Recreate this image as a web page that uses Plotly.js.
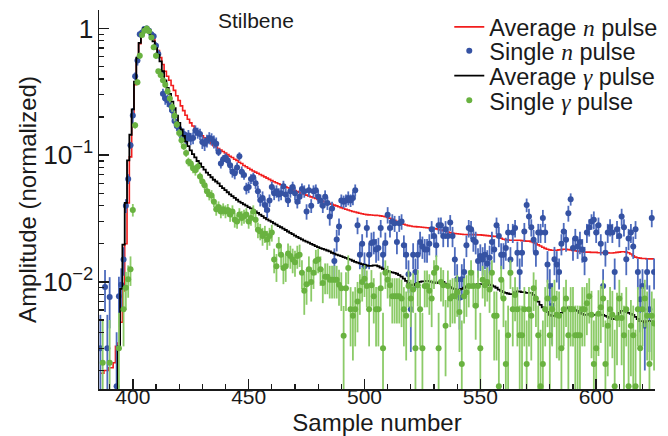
<!DOCTYPE html>
<html>
<head>
<meta charset="utf-8">
<script src="https://cdn.plot.ly/plotly-3.0.1.min.js"></script>
<style>html,body{margin:0;padding:0;background:#fff;}#chart{width:668px;height:436px;}</style>
</head>
<body>
<div id="chart"></div>
<script>
// Sample numbers 386 ... 625 (one per ADC sample)
const firstSample = 386;
const sampleCount = 240;
const samples = Array.from({length: sampleCount}, (_, i) => firstSample + i);

// Average neutron pulse (red step line)
const avgNeutron = [
0.0019,0.0019,0.002,0.002,0.0021,0.0021,0.0023,0.0031,0.0033,0.0048,
0.0085,0.020,0.042,0.097,0.21,0.36,0.57,0.76,0.92,1.0,
1.0,0.97,0.91,0.83,0.75,0.67,0.59,0.52,0.46,0.42,
0.39,0.355,0.325,0.295,0.27,0.245,0.225,0.207,0.192,0.18,
0.17,0.161,0.154,0.148,0.142,0.137,0.132,0.127,0.123,0.119,
0.116,0.113,0.11,0.107,0.104,0.101,0.098,0.096,0.093,0.091,
0.088,0.086,0.083,0.081,0.079,0.077,0.075,0.0735,0.072,0.0705,
0.069,0.0675,0.066,0.0645,0.063,0.0618,0.0606,0.0595,0.0584,0.0573,
0.0563,0.0553,0.0544,0.0535,0.0526,0.0517,0.0508,0.05,0.0492,0.0484,
0.0476,0.0469,0.0462,0.0455,0.0448,0.0441,0.0434,0.0428,0.0422,0.0416,
0.041,0.0404,0.0398,0.0392,0.0386,0.038,0.0375,0.037,0.0365,0.036,
0.0356,0.0352,0.0348,0.0345,0.0342,0.034,0.0338,0.0337,0.0336,0.0335,
0.0334,0.0332,0.033,0.0327,0.0323,0.0318,0.0312,0.0306,0.03,0.0295,
0.029,0.0285,0.0281,0.0278,0.0276,0.0274,0.0273,0.0272,0.0271,0.027,
0.0269,0.0268,0.0267,0.0266,0.0264,0.0262,0.026,0.0257,0.0254,0.0251,
0.0248,0.0245,0.0243,0.0241,0.024,0.0239,0.0238,0.0237,0.0237,0.0236,
0.0236,0.0236,0.0236,0.0235,0.0235,0.0234,0.0233,0.0232,0.0231,0.023,
0.0229,0.0228,0.0225,0.0221,0.0217,0.0215,0.0214,0.0213,0.0213,0.0213,
0.0213,0.0213,0.0212,0.0211,0.021,0.021,0.0208,0.0205,0.0201,0.0196,
0.0192,0.0188,0.0184,0.0181,0.0179,0.0178,0.0178,0.0178,0.0179,0.018,
0.0181,0.0181,0.018,0.0179,0.0177,0.0176,0.0175,0.0174,0.0173,0.0172,
0.0172,0.0172,0.0171,0.0171,0.0171,0.017,0.017,0.017,0.017,0.017,
0.0169,0.0169,0.017,0.0171,0.0172,0.0173,0.0173,0.0172,0.017,0.0166,
0.0161,0.0157,0.0155,0.0154,0.0153,0.0153,0.0152,0.0152,0.0152,0.0152
];

// Average gamma pulse (black step line)
const avgGamma = [
0.0012,0.0012,0.0012,0.0012,0.0012,0.0012,0.0012,0.0012,0.0031,0.0088,
0.0197,0.042,0.091,0.145,0.23,0.38,0.59,0.77,0.92,1.0,
0.99,0.95,0.88,0.79,0.70,0.62,0.55,0.46,0.39,0.34,
0.305,0.265,0.235,0.205,0.18,0.16,0.142,0.128,0.118,0.109,
0.102,0.096,0.090,0.086,0.081,0.077,0.073,0.070,0.067,0.064,
0.062,0.060,0.057,0.055,0.053,0.051,0.049,0.0475,0.046,0.0445,
0.043,0.042,0.041,0.040,0.039,0.038,0.037,0.036,0.035,0.034,
0.033,0.032,0.0312,0.0305,0.0298,0.029,0.0283,0.0276,0.027,0.0263,
0.0257,0.025,0.0244,0.0238,0.0232,0.0227,0.0222,0.0217,0.0212,0.0208,
0.0204,0.02,0.0196,0.0192,0.0188,0.0185,0.0182,0.018,0.0177,0.0174,
0.017,0.0167,0.0164,0.0162,0.016,0.0157,0.0155,0.0152,0.015,0.0147,
0.0144,0.0142,0.014,0.0138,0.0136,0.0135,0.0134,0.0134,0.0135,0.0135,
0.0133,0.013,0.0127,0.0124,0.0122,0.012,0.0119,0.0118,0.0116,0.0113,
0.011,0.0106,0.0102,0.0098,0.0095,0.0094,0.0096,0.0098,0.01,0.0101,
0.0101,0.0102,0.0101,0.01,0.0099,0.0098,0.0099,0.0101,0.01,0.0097,
0.0094,0.0091,0.0089,0.0088,0.0087,0.0087,0.0088,0.009,0.0092,0.0093,
0.0093,0.0094,0.0095,0.0096,0.0096,0.0096,0.0096,0.0095,0.0095,0.0094,
0.0092,0.009,0.0087,0.0085,0.0083,0.0082,0.0081,0.008,0.008,0.0083,
0.0084,0.0084,0.0083,0.0083,0.0082,0.0082,0.0082,0.0079,0.0075,0.007,
0.0066,0.0063,0.0061,0.0058,0.0055,0.0054,0.0054,0.0054,0.0055,0.0057,
0.0059,0.0062,0.0063,0.0063,0.0061,0.006,0.0059,0.0057,0.0056,0.0055,
0.0055,0.0056,0.0056,0.0055,0.0055,0.0056,0.0055,0.0055,0.0054,0.0053,
0.0052,0.0051,0.0051,0.0053,0.0057,0.0059,0.0059,0.0058,0.0057,0.0056,
0.0055,0.0053,0.0051,0.0049,0.0049,0.0048,0.0049,0.0049,0.0049,0.0049
];

// Single neutron pulse (blue points) and its errors
const singleNeutron = [
0.003,null,0.0091,0.003,0.0076,null,null,0.0015,0.0077,0.0095,
0.015,0.040,0.065,0.12,0.206,0.42,0.56,0.90,0.93,0.99,
1.0,0.96,0.90,0.87,0.73,0.63,0.45,0.305,0.28,0.27,
0.25,0.225,0.186,0.17,0.162,0.143,0.147,0.137,0.143,0.135,
0.137,0.157,0.15,0.147,0.127,0.123,0.13,0.137,0.134,0.128,
0.123,0.106,0.086,0.093,0.096,0.091,0.0835,0.074,0.072,0.080,
0.098,0.074,0.0697,0.0548,0.056,0.065,0.067,0.060,0.052,0.0444,
0.046,0.0405,0.037,0.044,0.056,0.050,0.052,0.049,0.050,0.057,
0.049,0.044,0.052,0.056,0.050,0.043,0.047,0.054,0.052,0.036,
0.053,0.040,0.052,0.053,0.047,0.044,0.040,0.047,0.042,0.0328,
0.038,0.0146,0.0216,0.0274,0.044,0.043,0.044,0.046,0.044,0.046,
0.053,0.028,0.0164,0.020,0.0133,0.0266,0.0164,0.0203,0.0207,0.018,
0.0185,0.0266,0.0164,0.0203,0.0339,0.0266,0.030,0.029,0.0207,0.029,
0.030,0.0195,0.0164,0.0115,0.0061,0.0164,0.012,0.0164,0.0207,0.019,
0.018,0.018,0.020,0.026,0.023,0.0195,0.028,0.028,0.023,0.026,
0.023,0.0295,0.023,0.015,0.0105,0.0075,0.0105,0.012,0.0195,0.0266,
0.026,0.0215,0.0207,0.0146,0.016,0.015,0.0164,0.014,0.0155,0.0207,
0.018,0.028,0.023,0.0164,0.0164,0.0185,0.0245,0.015,0.0245,0.0266,
0.017,0.012,0.017,0.025,0.0405,0.0328,0.027,0.0215,0.017,0.0245,
0.0245,0.032,0.0245,0.0137,0.0093,0.0065,0.0151,0.0137,0.012,0.020,
0.025,0.0215,0.0349,0.045,0.0185,0.022,0.019,0.0207,0.018,0.0151,
0.0245,0.027,0.030,0.031,0.0245,0.028,0.020,0.0093,0.017,0.0245,
0.027,0.0245,0.012,0.026,0.023,0.0328,0.027,0.0151,0.022,0.0245,
0.019,0.026,0.012,0.0073,0.0093,0.0045,0.012,0.0061,0.032,0.012
];
const singleNeutronErr = [
0.0025,0,0.0033,0.0025,0.0033,0,0,0.0025,0.0033,0.0033,
0.0038,0.005,0.0058,0.0075,0.03,0.03,0.05,0.05,0.05,0.05,
0.05,0.05,0.05,0.05,0.05,0.05,0.03,0.03,0.03,0.03,
0.03,0.03,0.015,0.015,0.015,0.015,0.015,0.015,0.015,0.015,
0.015,0.015,0.015,0.015,0.015,0.015,0.015,0.015,0.015,0.015,
0.015,0.0075,0.0075,0.0075,0.0075,0.0075,0.0075,0.0075,0.0075,0.0075,
0.0075,0.0075,0.0058,0.0058,0.0058,0.0058,0.0058,0.0058,0.0058,0.005,
0.0058,0.005,0.005,0.005,0.0058,0.0058,0.0058,0.0058,0.0058,0.0058,
0.0058,0.005,0.0058,0.0058,0.0058,0.005,0.0058,0.0058,0.0058,0.005,
0.0058,0.005,0.0058,0.0058,0.0058,0.005,0.005,0.0058,0.005,0.005,
0.005,0.0038,0.0042,0.0042,0.005,0.005,0.005,0.0058,0.005,0.0058,
0.0058,0.0042,0.0038,0.0038,0.0038,0.0042,0.0038,0.0042,0.0042,0.0038,
0.0038,0.0042,0.0038,0.0042,0.005,0.0042,0.0042,0.0042,0.0042,0.0042,
0.0042,0.0038,0.0038,0.0033,0.0033,0.0038,0.0033,0.0038,0.0042,0.0038,
0.0038,0.0038,0.0038,0.0042,0.0042,0.0038,0.0042,0.0042,0.0042,0.0042,
0.0042,0.0042,0.0042,0.0038,0.0033,0.0033,0.0033,0.0033,0.0038,0.0042,
0.0042,0.0042,0.0042,0.0038,0.0038,0.0038,0.0038,0.0038,0.0038,0.0042,
0.0038,0.0042,0.0042,0.0038,0.0038,0.0038,0.0042,0.0038,0.0042,0.0042,
0.0038,0.0033,0.0038,0.0042,0.005,0.005,0.0042,0.0042,0.0038,0.0042,
0.0042,0.005,0.0042,0.0038,0.0033,0.0033,0.0038,0.0038,0.0033,0.0038,
0.0042,0.0042,0.005,0.005,0.0038,0.0042,0.0038,0.0042,0.0038,0.0038,
0.0042,0.0042,0.0042,0.005,0.0042,0.0042,0.0038,0.0033,0.0038,0.0042,
0.0042,0.0042,0.0033,0.0042,0.0042,0.005,0.0042,0.0038,0.0042,0.0042,
0.0038,0.0042,0.0033,0.0033,0.0033,0.0025,0.0033,0.0033,0.005,0.0033
];

// Single gamma pulse (green points) and its errors
const singleGamma = [
null,0.0023,null,null,0.0023,null,null,null,0.003,null,
0.0061,0.009,0.0105,0.0126,0.037,0.172,0.376,0.61,0.89,0.96,
1.0,0.95,0.85,0.71,0.61,0.46,0.43,0.39,0.36,0.32,
0.28,0.24,0.205,0.175,0.15,0.131,0.117,0.104,0.0886,0.086,
0.079,0.076,0.081,0.068,0.062,0.058,0.052,0.049,0.048,0.043,
0.0375,0.039,0.036,0.0375,0.036,0.037,0.034,0.036,0.031,0.030,
0.034,0.032,0.033,0.034,0.030,0.032,0.036,0.031,0.0258,0.025,
0.023,0.024,0.0216,0.023,0.0245,0.015,0.0133,0.0193,0.0164,0.0129,
0.0133,0.0168,0.016,0.015,0.0143,0.016,0.0164,0.0118,0.0085,0.0096,
0.0126,0.01,0.0118,0.0146,0.015,0.0126,0.0098,0.011,0.011,0.0104,
0.0104,0.0104,0.0104,0.0095,0.0089,0.00376,0.0089,0.0129,0.0061,0.0054,
0.0061,0.007,0.0085,0.010,0.0106,0.0093,0.0061,0.0094,0.0077,0.0061,
0.0061,0.0089,0.003,0.0118,0.0104,0.0094,0.0077,0.0077,0.0077,0.0077,
0.0074,0.0061,0.0054,0.0093,0.0074,0.0087,0.003,0.0094,0.0061,0.003,
0.0093,0.0093,0.0085,0.0074,0.0118,0.0129,0.003,0.01,0.0094,0.0045,
0.0093,0.0074,0.0077,0.0077,0.0083,0.0058,0.00225,0.0077,0.0083,0.0093,
0.0118,0.0093,0.0065,0.0093,0.003,0.0104,0.0094,0.01,0.0087,0.0118,
0.0054,0.0054,0.0015,0.0104,0.0074,0.00225,0.0038,0.0118,0.0061,0.0079,
0.0061,0.0038,0.0038,0.0061,0.00225,0.0061,0.0054,0.0089,0.0074,0.0038,
0.0015,0.00225,0.0061,0.0074,0.0038,0.0061,0.0074,0.0055,0.0054,0.003,
0.0061,0.0074,0.0038,0.0061,0.0061,0.0038,0.0038,0.0038,0.0061,0.0061,
0.0068,0.0077,0.0055,0.00225,0.003,0.0056,0.0063,0.0074,0.00225,0.0045,
0.0061,0.0055,0.0015,0.0052,0.0074,0.0052,0.0038,0.0061,0.0015,0.0045,
0.0038,0.0015,0.0061,0.003,0.0061,0.0074,0.0054,0.00225,0.0054,0.0047
];
const singleGammaErr = [
0,0.0027,0,0,0.0027,0,0,0,0.0027,0,
0.003,0.003,0.003,0.0033,0.0042,0.01,0.02,0.035,0.035,0.035,
0.035,0.035,0.035,0.035,0.035,0.02,0.02,0.02,0.02,0.02,
0.02,0.02,0.02,0.01,0.01,0.01,0.007,0.007,0.007,0.007,
0.007,0.007,0.007,0.005,0.005,0.005,0.005,0.005,0.005,0.0042,
0.0042,0.0042,0.0042,0.0042,0.0042,0.0042,0.0042,0.0042,0.0042,0.0037,
0.0042,0.0042,0.0042,0.0042,0.0037,0.0042,0.0042,0.0042,0.0037,0.0037,
0.0037,0.0037,0.0037,0.0037,0.0037,0.0033,0.0033,0.0033,0.0033,0.0033,
0.0033,0.0033,0.0033,0.0033,0.0033,0.0033,0.0033,0.003,0.003,0.003,
0.0033,0.003,0.003,0.0033,0.0033,0.0033,0.003,0.003,0.003,0.003,
0.003,0.003,0.003,0.003,0.003,0.0027,0.003,0.0033,0.003,0.003,
0.003,0.003,0.003,0.003,0.003,0.003,0.003,0.003,0.003,0.003,
0.003,0.003,0.0027,0.003,0.003,0.003,0.003,0.003,0.003,0.003,
0.003,0.003,0.003,0.003,0.003,0.003,0.0027,0.003,0.003,0.0027,
0.003,0.003,0.003,0.003,0.003,0.0033,0.0027,0.003,0.003,0.0027,
0.003,0.003,0.003,0.003,0.003,0.003,0.0027,0.003,0.003,0.003,
0.003,0.003,0.003,0.003,0.0027,0.003,0.003,0.003,0.003,0.003,
0.003,0.003,0.0027,0.003,0.003,0.0027,0.0027,0.003,0.003,0.003,
0.003,0.0027,0.0027,0.003,0.0027,0.003,0.003,0.003,0.003,0.0027,
0.0027,0.0027,0.003,0.003,0.0027,0.003,0.003,0.003,0.003,0.0027,
0.003,0.003,0.0027,0.003,0.003,0.0027,0.0027,0.0027,0.003,0.003,
0.003,0.003,0.003,0.0027,0.0027,0.003,0.003,0.003,0.0027,0.0027,
0.003,0.003,0.0027,0.003,0.003,0.003,0.0027,0.003,0.0027,0.0027,
0.0027,0.0027,0.003,0.0027,0.003,0.003,0.003,0.0027,0.003,0.0027
];

const seriesNames = [
  'Average <span style="font-family:\'Liberation Serif\'"><i>n</i></span> pulse',
  'Single <span style="font-family:\'Liberation Serif\'"><i>n</i></span> pulse',
  'Average <span style="font-family:\'Liberation Serif\'"><i>γ</i></span> pulse',
  'Single <span style="font-family:\'Liberation Serif\'"><i>γ</i></span> pulse'
];
const panelLabel = 'Stilbene';
const xAxisTitle = 'Sample number';
const yAxisTitle = 'Amplitude (normalized)';

const FONT = 'Liberation Sans, Arial, Helvetica, sans-serif';
const AXC = '#1a1a1a';

const traces = [
  {x: samples, y: avgNeutron, name: seriesNames[0], type: 'scatter', mode: 'lines', legend: 'legend',
   line: {color: '#f21d1d', width: 1.6, shape: 'hvh'}},
  {x: samples, y: singleNeutron, name: seriesNames[1], type: 'scatter', mode: 'markers', legend: 'legend2',
   marker: {color: '#3552a3', size: 6},
   error_y: {type: 'data', array: singleNeutronErr, visible: true, color: '#4d6bbd', thickness: 1.8, width: 0}},
  {x: samples, y: avgGamma, name: seriesNames[2], type: 'scatter', mode: 'lines', legend: 'legend3',
   line: {color: '#000000', width: 1.8, shape: 'hvh'}},
  {x: samples, y: singleGamma, name: seriesNames[3], type: 'scatter', mode: 'markers', legend: 'legend4',
   marker: {color: '#69b240', size: 6},
   error_y: {type: 'data', array: singleGammaErr, visible: true, color: '#8ccb68', thickness: 1.8, width: 0}}
];

function legendAt(yPaper) {
  return {x: 0.63, y: yPaper, xanchor: 'left', yanchor: 'middle',
          font: {family: FONT, size: 23.5, color: '#1a1a1a'},
          bgcolor: 'rgba(0,0,0,0)', borderwidth: 0};
}

const layout = {
  width: 668, height: 436,
  margin: {l: 99, r: 5, t: 9, b: 47},
  paper_bgcolor: '#ffffff', plot_bgcolor: '#ffffff',
  font: {family: FONT, color: '#1a1a1a', size: 21},
  showlegend: true,
  legend: legendAt(0.955),
  legend2: legendAt(0.892),
  legend3: legendAt(0.826),
  legend4: legendAt(0.761),
  xaxis: {
    range: [385.4, 625.4], type: 'linear',
    tickmode: 'linear', tick0: 400, dtick: 50,
    ticks: 'inside', ticklen: 10, tickwidth: 1.5, tickcolor: AXC,
    minor: {dtick: 10, ticks: 'inside', ticklen: 5, tickwidth: 1.3, tickcolor: AXC, showgrid: false},
    showline: true, linecolor: AXC, linewidth: 1.5, mirror: false,
    showgrid: false, zeroline: false,
    ticklabelposition: 'outside',
    ticklabelstandoff: -12,
    tickfont: {family: FONT, size: 21, color: '#1a1a1a'},
    title: {text: xAxisTitle, font: {family: FONT, size: 24, color: '#1a1a1a'}, standoff: 12}
  },
  yaxis: {
    type: 'log', range: [-2.845, 0.146],
    tickmode: 'linear', tick0: 0, dtick: 1, exponentformat: 'power',
    ticks: 'inside', ticklen: 10, tickwidth: 1.5, tickcolor: AXC,
    minor: {dtick: 'D1', ticks: 'inside', ticklen: 5, tickwidth: 1.3, tickcolor: AXC, showgrid: false},
    showline: true, linecolor: AXC, linewidth: 1.5, mirror: false,
    showgrid: false, zeroline: false,
    tickfont: {family: FONT, size: 21, color: '#1a1a1a'},
    title: {text: yAxisTitle, font: {family: FONT, size: 24, color: '#1a1a1a'}}
  },
  annotations: [
    {text: panelLabel, xref: 'paper', yref: 'paper', x: 0.282, y: 0.972,
     xanchor: 'center', yanchor: 'middle', showarrow: false,
     font: {family: FONT, size: 21, color: '#1a1a1a'}}
  ]
};

Plotly.newPlot('chart', traces, layout, {displayModeBar: false, staticPlot: true});
</script>
</body>
</html>
